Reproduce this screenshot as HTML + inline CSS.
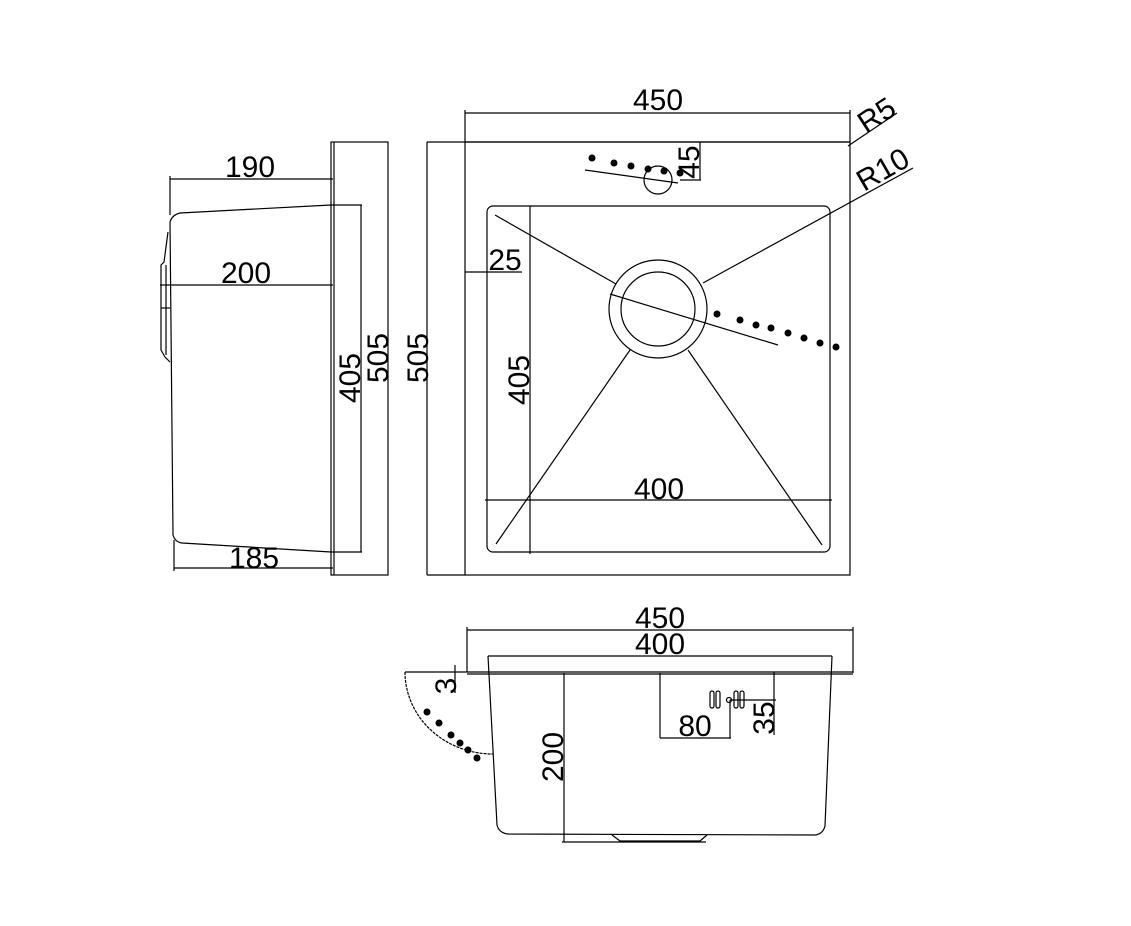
<!DOCTYPE html>
<html><head><meta charset="utf-8"><style>
html,body{margin:0;padding:0;background:#fff;}
svg{display:block;}
text{font-family:"Liberation Sans",Arial,sans-serif;font-size:30px;fill:#000;}
</style></head><body>
<svg width="1131" height="926" viewBox="0 0 1131 926" xmlns="http://www.w3.org/2000/svg">
<g fill="none" stroke="#000" stroke-width="1.2">
<rect x="331" y="142" width="57" height="433"/>
<line x1="334" y1="142" x2="334" y2="575"/>
<line x1="361" y1="205" x2="361" y2="552"/>
<line x1="331" y1="205" x2="362" y2="205"/>
<line x1="331" y1="552" x2="362" y2="552"/>
<path d="M331 205 L180 213 Q172 215 170 222 L173 535 Q175 542 182 543 L331 552"/>
<path d="M168 232 L164 262 L161 265 L161 350 L165 357 L170 362"/>
<line x1="166" y1="265" x2="166" y2="355"/>
<line x1="161" y1="308" x2="170" y2="308"/>
<line x1="170" y1="179" x2="333" y2="179"/>
<line x1="170" y1="176" x2="170" y2="215"/>
<line x1="160" y1="285" x2="333" y2="285"/>
<line x1="174" y1="568" x2="333" y2="568"/>
<line x1="174" y1="540" x2="174" y2="571"/>
<line x1="427" y1="142" x2="427" y2="575"/>
<line x1="427" y1="142" x2="850" y2="142"/>
<line x1="427" y1="575" x2="465" y2="575"/>
<rect x="465" y="142" width="385" height="433"/>
<line x1="465" y1="113" x2="850" y2="113"/>
<line x1="465" y1="110" x2="465" y2="142"/>
<line x1="850" y1="110" x2="850" y2="142"/>
<line x1="848" y1="146" x2="897" y2="113"/>
<rect x="487" y="206" width="343" height="346" rx="6"/>
<line x1="530" y1="206" x2="530" y2="554"/>
<line x1="485" y1="500" x2="832" y2="500"/>
<line x1="465" y1="272" x2="522" y2="272"/>
<circle cx="658" cy="309" r="49"/>
<circle cx="658" cy="309" r="37"/>
<line x1="495" y1="215" x2="616" y2="284"/>
<line x1="703" y1="283" x2="913" y2="168"/>
<line x1="610" y1="294" x2="778" y2="345"/>
<line x1="630" y1="350" x2="496" y2="544"/>
<line x1="688" y1="350" x2="822" y2="545"/>
<circle cx="658" cy="180" r="14"/>
<line x1="585" y1="170" x2="678" y2="183"/>
<line x1="700" y1="142" x2="700" y2="180"/>
<line x1="680" y1="180" x2="701" y2="180"/>
<line x1="467" y1="630" x2="853" y2="630"/>
<line x1="467" y1="627" x2="467" y2="672"/>
<line x1="853" y1="627" x2="853" y2="673"/>
<line x1="488" y1="656" x2="832" y2="656"/>
<line x1="405" y1="672" x2="853" y2="672"/>
<line x1="467" y1="674" x2="853" y2="674"/>
<path d="M488 656 L497 825 Q499 833 508 834 L815 835 Q823 834 825 826 L832 656"/>
<path d="M612 835 L620 841 L700 841 L707 835"/>
<line x1="564" y1="673" x2="564" y2="842"/>
<line x1="562" y1="842" x2="706" y2="842"/>
<line x1="660" y1="673" x2="660" y2="738"/>
<line x1="660" y1="738" x2="731" y2="738"/>
<line x1="730" y1="700" x2="730" y2="738"/>
<line x1="730" y1="700" x2="776" y2="700"/>
<line x1="774" y1="672" x2="774" y2="735"/>
<line x1="455" y1="665" x2="455" y2="693"/>
<path d="M405 672 A88 82 0 0 0 493 754" stroke-dasharray="3 1"/>
<circle cx="729" cy="700" r="2.5"/>
<rect x="710" y="691" width="4" height="17" rx="2"/>
<rect x="716" y="691" width="4" height="17" rx="2"/>
<rect x="734" y="691" width="4" height="17" rx="2"/>
<rect x="740" y="691" width="4" height="17" rx="2"/>
</g>
<g fill="#000">
<circle cx="592" cy="158" r="3.5"/><circle cx="614" cy="163" r="3.5"/><circle cx="631" cy="166" r="3.5"/><circle cx="648" cy="169" r="3.5"/><circle cx="664" cy="171" r="3.5"/><circle cx="680" cy="173" r="3.5"/>
<circle cx="717" cy="314" r="3.5"/><circle cx="740" cy="320" r="3.5"/><circle cx="756" cy="325" r="3.5"/><circle cx="771" cy="328" r="3.5"/><circle cx="788" cy="333" r="3.5"/><circle cx="804" cy="338" r="3.5"/><circle cx="820" cy="343" r="3.5"/><circle cx="836" cy="347" r="3.5"/>
<circle cx="427" cy="712" r="3.5"/><circle cx="439" cy="723" r="3.5"/><circle cx="451" cy="735" r="3.5"/><circle cx="460" cy="743" r="3.5"/><circle cx="468" cy="750" r="3.5"/><circle cx="477" cy="758" r="3.5"/>
</g>
<text x="250" y="177" text-anchor="middle">190</text>
<text x="246" y="283" text-anchor="middle">200</text>
<text x="254" y="568" text-anchor="middle">185</text>
<text transform="translate(360,378) rotate(-90)" text-anchor="middle">405</text>
<text transform="translate(388,358) rotate(-90)" text-anchor="middle">505</text>
<text transform="translate(428,358) rotate(-90)" text-anchor="middle">505</text>
<text x="658" y="110" text-anchor="middle">450</text>
<text transform="translate(866,134) rotate(-33)">R5</text>
<text transform="translate(864,192) rotate(-30)">R10</text>
<text transform="translate(699,162) rotate(-90)" text-anchor="middle">45</text>
<text x="505" y="270" text-anchor="middle">25</text>
<text transform="translate(529,380) rotate(-90)" text-anchor="middle">405</text>
<text x="659" y="499" text-anchor="middle">400</text>
<text x="660" y="628" text-anchor="middle">450</text>
<text x="660" y="654" text-anchor="middle">400</text>
<text transform="translate(456,686) rotate(-90)" text-anchor="middle">3</text>
<text transform="translate(563,757) rotate(-90)" text-anchor="middle">200</text>
<text x="695" y="736" text-anchor="middle">80</text>
<text transform="translate(774,718) rotate(-90)" text-anchor="middle">35</text>
</svg>
</body></html>
